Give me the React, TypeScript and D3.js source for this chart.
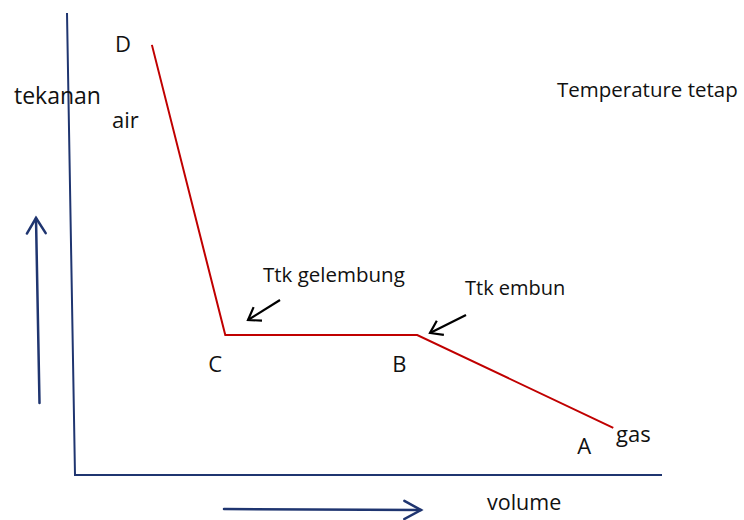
import * as d3 from 'd3';

// isotherm: volume vs pressure (arbitrary units)
const pointNames = ['D', 'C', 'B', 'A'];
const volumeVals = [1.31, 2.56, 5.83, 9.17];
const pressureVals = [9.31, 3.03, 3.03, 1.02];

const width = 744;
const height = 520;
const navy = '#1f3570';
const red = '#c00000';
const font = "'Open Sans', sans-serif";

export default function App() {
  const x = d3.scaleLinear().domain([0, 10]).range([75, 662]);
  const y = d3.scaleLinear().domain([0, 10]).range([475, 13]);

  const pts = volumeVals.map((v, i) => ({ name: pointNames[i], v, p: pressureVals[i] }));
  const line = d3.line<{ v: number; p: number }>()
    .x((d) => x(d.v))
    .y((d) => y(d.p));

  const arrowHead = (x2: number, y2: number, x1: number, y1: number, len = 17, spread = 0.55) => {
    const ang = Math.atan2(y2 - y1, x2 - x1);
    const a1 = ang + Math.PI - spread;
    const a2 = ang + Math.PI + spread;
    return `M${x2 + len * Math.cos(a1)},${y2 + len * Math.sin(a1)}L${x2},${y2}L${x2 + len * Math.cos(a2)},${y2 + len * Math.sin(a2)}`;
  };

  return (
    <svg
      width={width}
      height={height}
      style={{ position: 'absolute', left: 0, top: 0, background: '#fff' }}
      fontFamily={font}
    >
      {/* axes */}
      <path d={`M${x(0) - 8},${y(10)}L${x(0)},${y(0)}L${x(10)},${y(0)}`} fill="none" stroke={navy} strokeWidth={2} />

      {/* direction arrows */}
      <g stroke={navy} strokeWidth={2.5} fill="none" strokeLinecap="round">
        <path d="M39.5,403L36,218" />
        <path d={arrowHead(36, 218, 39.5, 403, 18, 0.55)} />
        <path d="M224,509L421,510" />
        <path d={arrowHead(421, 510, 224, 509, 19, 0.5)} />
      </g>

      {/* isotherm */}
      <path d={line(pts) ?? ''} fill="none" stroke={red} strokeWidth={2} />

      {/* annotation arrows */}
      <g stroke="#000" strokeWidth={2.2} fill="none">
        <path d="M280,300L248,320" />
        <path d={arrowHead(248, 320, 280, 300, 14, 0.6)} />
        <path d="M466,315L430,333" />
        <path d={arrowHead(430, 333, 466, 315, 14, 0.6)} />
      </g>

      {/* point labels */}
      <g fontSize={22} fill="#111">
        <text x={x(pts[0].v) - 37} y={52}>D</text>
        <text x={x(pts[1].v) - 17} y={372}>C</text>
        <text x={x(pts[2].v) - 25} y={372}>B</text>
        <text x={x(pts[3].v) - 36} y={454}>A</text>
      </g>

      <g fill="#111">
        <text x={14} y={104} fontSize={23}>tekanan</text>
        <text x={112} y={128} fontSize={22}>air</text>
        <text x={616} y={442} fontSize={22}>gas</text>
        <text x={487} y={510} fontSize={21.5}>volume</text>
        <text x={557} y={97} fontSize={20.5}>Temperature tetap</text>
        <text x={263} y={282} fontSize={20.5}>Ttk gelembung</text>
        <text x={465} y={295} fontSize={20}>Ttk embun</text>
      </g>
    </svg>
  );
}
